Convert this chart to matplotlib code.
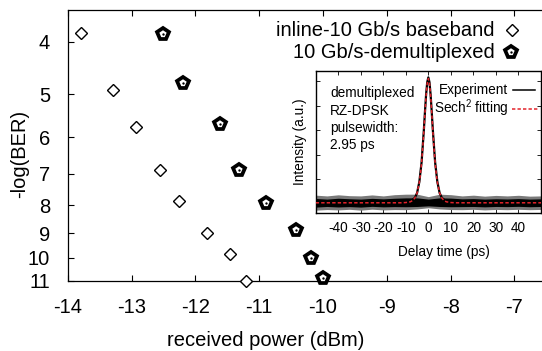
import matplotlib
matplotlib.use('Agg')
import matplotlib.pyplot as plt
from matplotlib.ticker import FixedLocator, NullLocator, FixedFormatter

plt.rcParams['font.family'] = ['Liberation Sans', 'DejaVu Sans']
plt.rcParams['mathtext.fontset'] = 'custom'
plt.rcParams['mathtext.rm'] = 'Liberation Sans'
plt.rcParams['mathtext.it'] = 'Liberation Sans:italic'
plt.rcParams['mathtext.bf'] = 'Liberation Sans:bold'

# ---------------- data ----------------
baseband_power = [-13.79, -13.29, -12.93, -12.55, -12.25, -11.82, -11.46, -11.21]
baseband_logber = [3.85, 4.92, 5.74, 6.88, 7.87, 8.99, 9.83, 11.0]
demux_power = [-12.51, -12.19, -11.61, -11.31, -10.90, -10.42, -10.19, -10.00]
demux_logber = [3.88, 4.76, 5.67, 6.90, 7.94, 8.87, 9.98, 10.89]
x_ticks = [-14, -13, -12, -11, -10, -9, -8, -7]
y_ticks = [4, 5, 6, 7, 8, 9, 10, 11]

# inset: autocorrelation trace
fit_t = [-50, -12, -10, -8, -7, -6, -5, -4, -3.5, -3, -2.5, -2, -1.5, -1, -0.5, 0,
         0.5, 1, 1.5, 2, 2.5, 3, 3.5, 4, 5, 6, 7, 8, 10, 12, 50]
fit_i = [0.010, 0.010, 0.012, 0.018, 0.028, 0.048, 0.090, 0.177, 0.246, 0.338, 0.456,
         0.594, 0.743, 0.882, 0.983, 1.020, 0.983, 0.882, 0.743, 0.594, 0.456, 0.338,
         0.246, 0.177, 0.090, 0.048, 0.028, 0.018, 0.012, 0.010, 0.010]
exp_t = [-8, -6, -5, -4, -3, -2, -1.5, -1, -0.5, 0, 0.5, 1, 1.5, 2, 3, 4, 5, 6, 8]
exp_i = [0.02, 0.05, 0.09, 0.18, 0.34, 0.60, 0.75, 0.89, 0.99, 1.03, 0.99, 0.89,
         0.75, 0.60, 0.34, 0.18, 0.09, 0.05, 0.02]
noise_t = [-50, -45, -40, -35, -30, -25, -20, -15, -10, -5, 0, 5, 10, 15, 20, 25, 30, 35, 40, 45, 50]
noise_hi = [0.045, 0.040, 0.047, 0.043, 0.040, 0.046, 0.042, 0.047, 0.050, 0.050, 0.040,
            0.050, 0.048, 0.042, 0.044, 0.040, 0.043, 0.041, 0.044, 0.040, 0.042]
noise_lo = [-0.025, -0.020, -0.024, -0.021, -0.025, -0.019, -0.023, -0.021, -0.022, -0.020, -0.015,
            -0.020, -0.022, -0.021, -0.020, -0.023, -0.020, -0.021, -0.019, -0.022, -0.020]
spike_hi = [0.072, 0.066, 0.075, 0.068, 0.066, 0.074, 0.066, 0.076, 0.080, 0.080, 0.060,
            0.080, 0.076, 0.066, 0.072, 0.064, 0.070, 0.066, 0.071, 0.064, 0.066]
spike_lo = [-0.050, -0.045, -0.048, -0.043, -0.050, -0.042, -0.048, -0.045, -0.046, -0.040, -0.030,
            -0.040, -0.045, -0.046, -0.043, -0.048, -0.044, -0.046, -0.043, -0.046, -0.044]
inset_xticks = [-40, -30, -20, -10, 0, 10, 20, 30, 40]
inset_yticks = [0, 0.2, 0.4, 0.6, 0.8, 1.0]

# ---------------- layout ----------------
W, H = 542, 351
fig = plt.figure(figsize=(W / 100, H / 100), dpi=100)


def rect(x0, y0, x1, y1):
    return [x0 / W, 1 - y1 / H, (x1 - x0) / W, (y1 - y0) / H]


def fx(x):
    return x / W


def fy(y):
    return 1 - y / H


FS = 14.5
FS_IN = 9.8

ax = fig.add_axes(rect(67.8, 10, 578.2, 280.5))
ax.set_xlim(-14, -6)
ax.set_yscale('log')
ax.set_ylim(11, 3.5)
ax.yaxis.set_major_locator(FixedLocator(y_ticks))
ax.yaxis.set_major_formatter(FixedFormatter([str(v) for v in y_ticks]))
ax.yaxis.set_minor_locator(NullLocator())
ax.xaxis.set_major_locator(FixedLocator(x_ticks))
ax.xaxis.set_major_formatter(FixedFormatter([str(v) for v in x_ticks]))
ax.xaxis.set_minor_locator(NullLocator())
ax.tick_params(axis='both', direction='in', length=4.2, width=0.8, labelsize=FS, pad=12.8,
               top=True, right=False)
for sp in ax.spines.values():
    sp.set_linewidth(0.9)
ax.spines['right'].set_visible(False)

ax.plot(baseband_power, baseband_logber, ls='none', marker='D', ms=6.6, mfc='white',
        mec='black', mew=1.0, clip_on=False, zorder=5)
ax.plot(demux_power, demux_logber, ls='none', marker='p', ms=8.4, mfc='white',
        mec='black', mew=2.7, clip_on=False, zorder=5)
ax.plot(demux_power, demux_logber, ls='none', marker='o', ms=1.7, color='black',
        mew=0, clip_on=False, zorder=6)

fig.text(fx(266), fy(346), 'received power (dBm)', ha='center', va='baseline', fontsize=FS)
fig.text(fx(20), fy(154), '-log(BER)', ha='center', va='center', rotation=90, fontsize=FS)

# legend
fig.text(fx(494.5), fy(31), 'inline-10 Gb/s baseband', ha='right', va='center', fontsize=FS)
fig.text(fx(494.5), fy(53), '10 Gb/s-demultiplexed', ha='right', va='center', fontsize=FS)
ax.plot([fx(511.7)], [fy(30)], transform=fig.transFigure, marker='D', ms=6.6, mfc='white',
        mec='black', mew=1.0, clip_on=False, ls='none')
ax.plot([fx(511)], [fy(52.3)], transform=fig.transFigure, marker='p', ms=8.4, mfc='white',
        mec='black', mew=2.7, clip_on=False, ls='none')
ax.plot([fx(511)], [fy(52.3)], transform=fig.transFigure, marker='o', ms=1.7, color='black',
        mew=0, clip_on=False, ls='none')

# ---------------- inset ----------------
axin = fig.add_axes(rect(315.7, 70.7, 541, 213))
axin.set_facecolor('white')
axin.set_xlim(-50, 50)
axin.set_ylim(-0.073, 1.084)
axin.xaxis.set_major_locator(FixedLocator(inset_xticks))
axin.xaxis.set_major_formatter(FixedFormatter([str(v) for v in inset_xticks]))
axin.yaxis.set_major_locator(FixedLocator(inset_yticks))
axin.yaxis.set_major_formatter(FixedFormatter([''] * len(inset_yticks)))
axin.tick_params(axis='both', direction='in', length=2.6, width=0.6, labelsize=FS_IN, pad=6.0,
                 top=True, right=True)
for sp in axin.spines.values():
    sp.set_linewidth(1.0)

axin.fill_between(noise_t, spike_lo, spike_hi, color='#7a7a7a', lw=0, zorder=2)
axin.fill_between(noise_t, noise_lo, noise_hi, color='black', lw=0, zorder=3)
axin.plot(exp_t, exp_i, color='black', lw=1.6, zorder=4)
axin.plot(fit_t, fit_i, color='#e3232b', lw=1.1, ls=(0, (2.2, 1.4)), zorder=5)

fig.text(fx(300), fy(141.7), 'Intensity (a.u.)', ha='center', va='center', rotation=90,
         fontsize=FS_IN)
fig.text(fx(444), fy(252), 'Delay time (ps)', ha='center', va='center', fontsize=FS_IN)

for txt, yy in zip(['demultiplexed', 'RZ-DPSK', 'pulsewidth:', '2.95 ps'],
                   [93.3, 110.5, 127.7, 145]):
    fig.text(fx(330), fy(yy), txt, ha='left', va='center', fontsize=FS_IN)

fig.text(fx(508), fy(90), 'Experiment', ha='right', va='center', fontsize=FS_IN)
fig.text(fx(508), fy(108.5), 'Sech$^2$ fitting', ha='right', va='center', fontsize=FS_IN)
axin.plot([fx(512.7), fx(535)], [fy(90), fy(90)], transform=fig.transFigure, color='black',
          lw=1.1, clip_on=False)
axin.plot([fx(512), fx(538)], [fy(109.3), fy(109.3)], transform=fig.transFigure,
          color='#e3232b', lw=1.1, ls=(0, (2.2, 1.4)), clip_on=False)

fig.savefig('out.png', dpi=100)
